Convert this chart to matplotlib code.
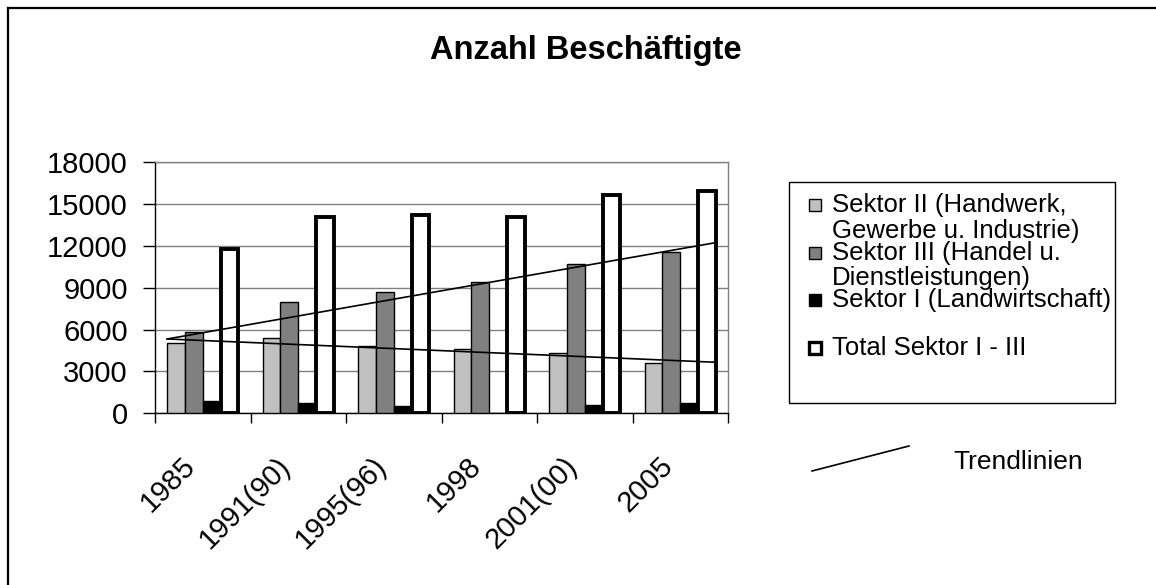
import matplotlib.pyplot as plt
import matplotlib.patches as mpatches
import matplotlib.transforms as mtransforms
from matplotlib.lines import Line2D
import numpy as np

plt.rcParams['font.family'] = ['Liberation Sans', 'DejaVu Sans']

# data
jahre = ["1985", "1991(90)", "1995(96)", "1998", "2001(00)", "2005"]
sektor2 = [5020, 5420, 4850, 4590, 4300, 3590]
sektor3 = [5850, 8010, 8720, 9440, 10710, 11600]
sektor1 = [900, 720, 550, 0, 600, 720]
total = [11790, 14060, 14230, 14050, 15680, 15930]
trend_s3 = [5330, 12240]
trend_s2 = [5330, 3660]

W, H = 1156, 585
fig = plt.figure(figsize=(W / 100, H / 100), dpi=100)


def fx(px):
    return px / W


def fy(py):
    return 1 - py / H


# outer frame (only left and top edge visible)
fig.add_artist(Line2D([fx(8), fx(8)], [fy(8), 0], transform=fig.transFigure,
                      color='black', lw=1.6))
fig.add_artist(Line2D([fx(8), 1], [fy(8), fy(8)], transform=fig.transFigure,
                      color='black', lw=1.6))

ax = fig.add_axes([fx(155), fy(413.3), fx(728) - fx(155), fy(162.3) - fy(413.3)])

x = np.arange(len(jahre))
w = 0.186
series = [
    (sektor2, '#c0c0c0', 1.0),
    (sektor3, '#808080', 1.0),
    (sektor1, '#000000', 1.0),
    (total, '#ffffff', 2.8),
]
for i, (vals, col, lw) in enumerate(series):
    ax.bar(x + (i - 1.5) * w, vals, w, color=col, edgecolor='black',
           linewidth=lw, zorder=3)

# trend lines from first group left edge to last group right edge
tx = [x[0] - 2 * w, x[-1] + 2 * w]
ax.plot(tx, trend_s3, color='black', lw=1.2, zorder=4)
ax.plot(tx, trend_s2, color='black', lw=1.2, zorder=4)

ax.set_xlim(-0.5, len(jahre) - 0.5)
ax.set_ylim(0, 18000)
ax.set_yticks(np.arange(0, 18001, 3000))
ax.yaxis.grid(True, color='#808080', lw=1.0, zorder=0)
ax.set_axisbelow(True)

ax.set_xticks(np.arange(-0.5, len(jahre)), labels=[])
ax.set_xticks(x, labels=jahre, minor=True)
ax.tick_params(axis='x', which='major', direction='out', length=7,
               width=1, color='black')
ax.tick_params(axis='x', which='minor', length=0, pad=35, labelsize=21)
shift = mtransforms.ScaledTranslation(-0.12, 0, fig.dpi_scale_trans)
for lab in ax.get_xticklabels(minor=True):
    lab.set_rotation(45)
    lab.set_ha('right')
    lab.set_va('center')
    lab.set_rotation_mode('anchor')
    lab.set_transform(lab.get_transform() + shift)
ax.tick_params(axis='y', direction='out', length=8.5, width=1,
               labelsize=21, pad=11)

for s in ['left', 'bottom']:
    ax.spines[s].set_color('black')
    ax.spines[s].set_linewidth(1.0)
for s in ['top', 'right']:
    ax.spines[s].set_color('#808080')
    ax.spines[s].set_linewidth(1.0)

fig.text(fx(586), fy(51), "Anzahl Beschäftigte", ha='center', va='center',
         fontsize=23.5, fontweight='bold')

# legend box, drawn by hand like the original
fig.add_artist(mpatches.Rectangle((fx(789), fy(403)), fx(1115) - fx(789),
                                  fy(182) - fy(403), transform=fig.transFigure,
                                  facecolor='white', edgecolor='black', lw=1.0))
leg_entries = [
    (["Sektor II (Handwerk,", "Gewerbe u. Industrie)"], [205, 231], '#c0c0c0', 1.0),
    (["Sektor III (Handel u.", "Dienstleistungen)"], [253, 278], '#808080', 1.0),
    (["Sektor I (Landwirtschaft)"], [300], '#000000', 1.0),
    (["Total Sektor I - III"], [348], '#ffffff', 2.4),
]
for lines, ys, col, lw in leg_entries:
    fig.add_artist(mpatches.Rectangle((fx(809), fy(ys[0] + 6)), fx(12), 12 / H,
                                      transform=fig.transFigure, facecolor=col,
                                      edgecolor='black', lw=lw))
    for t, yy in zip(lines, ys):
        fig.text(fx(832), fy(yy), t, ha='left', va='center', fontsize=18.5)

fig.add_artist(Line2D([fx(812), fx(909)], [fy(471), fy(446)],
                      transform=fig.transFigure, color='black', lw=1.2))
fig.text(fx(953), fy(462), "Trendlinien", ha='left', va='center', fontsize=19)

fig.savefig('out.png', dpi=100)
